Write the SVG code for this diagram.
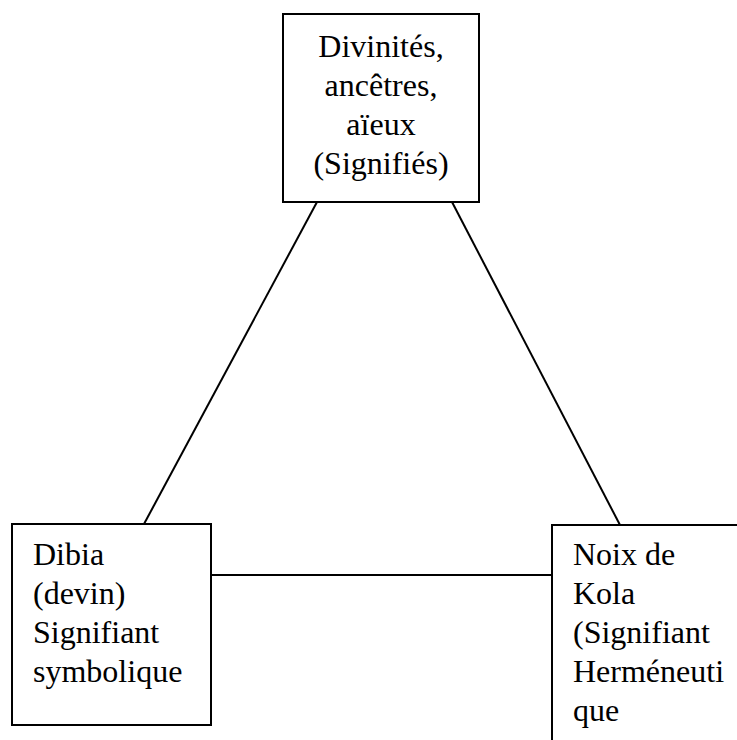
<svg xmlns="http://www.w3.org/2000/svg" width="737" height="740" viewBox="0 0 737 740">
<style>
.box{fill:#fff;stroke:#000;stroke-width:2}
.ln{stroke:#000;stroke-width:2;fill:none}
text{font-family:"Liberation Serif","Times New Roman",serif;font-size:32px;fill:#000}
</style>
<rect width="737" height="740" fill="#fff"/>
<g id="connectors">
<line class="ln" x1="317" y1="202" x2="144" y2="524"/>
<line class="ln" x1="452" y1="202" x2="620" y2="525"/>
<line class="ln" x1="211" y1="575" x2="552" y2="575"/>
</g>
<g id="top">
<rect class="box" x="283" y="14" width="196" height="188"/>
<text x="381" text-anchor="middle"><tspan x="381" y="57">Divinités,</tspan><tspan x="381" y="96">ancêtres,</tspan><tspan x="381" y="135">aïeux</tspan><tspan x="381" y="174">(Signifiés)</tspan></text>
</g>
<g id="left">
<rect class="box" x="12" y="524" width="199" height="201"/>
<text><tspan x="33" y="565">Dibia</tspan><tspan x="33" y="604">(devin)</tspan><tspan x="33" y="643">Signifiant</tspan><tspan x="33" y="682">symbolique</tspan></text>
</g>
<g id="right">
<rect class="box" x="552" y="525" width="200" height="230"/>
<text><tspan x="573" y="565">Noix de</tspan><tspan x="573" y="604">Kola</tspan><tspan x="573" y="643">(Signifiant</tspan><tspan x="573" y="682">Herméneuti</tspan><tspan x="573" y="721">que</tspan></text>
</g>
</svg>
